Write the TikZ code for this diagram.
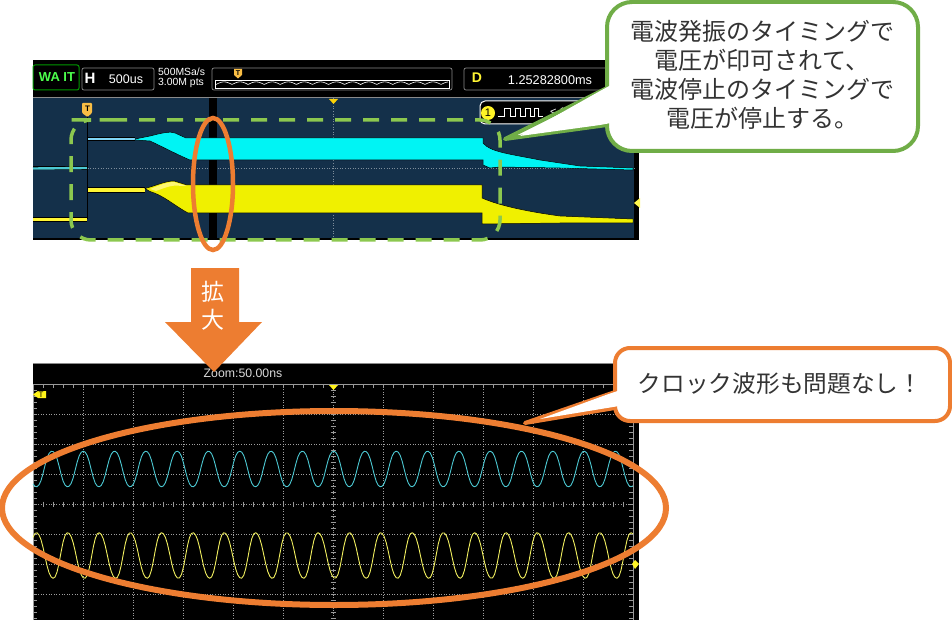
\documentclass[tikz,border=0pt]{standalone}
\usepackage{fontspec}
\setmainfont{Liberation Sans}
\newfontfamily\cjk{Noto Sans CJK JP}
\definecolor{navy}{HTML}{14304A}
\definecolor{orangeA}{HTML}{ED7D31}
\definecolor{greenA}{HTML}{70AD47}
\definecolor{greenB}{HTML}{8CC84F}
\definecolor{cyanband}{HTML}{00F4F4}
\definecolor{yellowband}{HTML}{F0F000}
\definecolor{cyanwave}{HTML}{4CC8D2}
\definecolor{yellowwave}{HTML}{F2F060}
\definecolor{panelgray}{HTML}{8A8A8A}
\definecolor{marker}{HTML}{F9BE45}
\tikzset{
  panelbox/.style={draw=panelgray,line width=0.7pt,rounded corners=2pt,fill=black},
  smalltext/.style={text=white,font=\fontsize{11}{13}\selectfont,inner sep=0pt},
  calloutgreen/.style={draw=greenA,line width=4pt,fill=white,line join=round},
  calloutorange/.style={draw=orangeA,line width=4pt,fill=white,line join=round},
  calltext/.style={font=\cjk\fontsize{23.7}{29.2}\selectfont,align=center,inner sep=0pt,text=black!80},
  gridline/.style={draw=white!62!black,line width=0.6pt,dash pattern=on 1pt off 1.6pt},
  ticks/.style={draw=white!60!black,line width=0.7pt},
  emphasis/.style={draw=orangeA,fill=none},
  bandedge/.style={draw=black,line width=0.5pt}
}
\begin{document}
\begin{tikzpicture}[x=1pt,y=-1pt]
\useasboundingbox (0,0) rectangle (952,620);
% ---------- upper scope
\fill[black] (33,60) rectangle (638.5,240);
\fill[navy] (33,98) rectangle (634,238);
\draw[panelgray,line width=0.7pt] (33,97.5) -- (638,97.5);
\draw[gridline,draw=white!45!navy] (33,168) -- (634,168);
\draw[gridline,draw=white!45!navy] (333,98) -- (333,238);
\fill[black] (209,98) rectangle (217,238);
% header
\draw[draw=green!60!black,line width=1pt,rounded corners=2pt,fill=black] (33,65) rectangle (79,90);
\node[inner sep=0pt,text=green!70!white,font=\bfseries\fontsize{13}{15}\selectfont] (waitlabel) at (57,77) {WA IT};
\draw[panelbox] (82,68) rectangle (154,90);
\node[smalltext,font=\bfseries\fontsize{15}{15}\selectfont] (hlabel) at (90,78) {H};
\node[smalltext,font=\fontsize{12.5}{13}\selectfont] (hvalue) at (126,79) {500us};
\node[smalltext,font=\fontsize{10.4}{11}\selectfont,anchor=west] (rate) at (158,72) {500MSa/s};
\node[smalltext,font=\fontsize{10.4}{11}\selectfont,anchor=west] (pts) at (158,83) {3.00M pts};
\draw[panelbox] (212,68) rectangle (452,90);
\draw[white,fill=black,line width=0.7pt] (215,80) rectangle (449,88);
\draw[white,line width=0.6pt] plot[domain=216:448,samples=240,smooth] (\x,{84.5-2.6*abs(sin((\x-216)*11.2))});
\fill[marker] (234,69) -- (242,69) -- (242,75) -- (238,78.5) -- (234,75) -- cycle;
\node[inner sep=0pt,font=\bfseries\fontsize{7}{8}\selectfont] (navT) at (238,73) {T};
\draw[panelbox] (464,68) rectangle (612,90);
\node[inner sep=0pt,text=yellow!80!white,font=\bfseries\fontsize{14}{15}\selectfont] (dlabel) at (477,78) {D};
\node[smalltext,font=\fontsize{12.7}{13}\selectfont] (dvalue) at (550,80) {1.25282800ms};
% trigger marker
\fill[marker,rounded corners=1pt] (82,103) -- (92,103) -- (92,113) -- (87.5,117) -- (82,113) -- cycle;
\node[inner sep=0pt,font=\bfseries\fontsize{8}{9}\selectfont] (trigT) at (87.5,109) {T};
\fill[yellow!70!orange] (329,99) -- (338,99) -- (333.5,104) -- cycle;
\fill[yellow!70!white] (640,198) -- (634,203) -- (640,208) -- cycle;
\draw[black,line width=0.8pt] (87.5,117) -- (87.5,219);
% cyan trace
\draw[black,line width=4pt] (33,168.5) -- (87,168.5);
\draw[cyanwave,line width=2.4pt] (33,168.5) -- (87,168) ;
\draw[black,line width=3.2pt] (88,139) -- (135,139);
\draw[cyan!50!white,line width=1.6pt] (88,139) -- (135,139);
\draw[bandedge,fill=cyanband] (135,139) -- (150,136) .. controls (162,133) and (170,131) .. (175,133)
  -- (186,138) -- (483,138) -- (483,143) .. controls (490,152) and (510,154) .. (540,160)
  -- (580,166) -- (633,168) -- (633,170) -- (560,168) -- (500,167) -- (490,168) -- (483,165)
  -- (483,160) -- (190,160) .. controls (178,155) and (165,148) .. (150,141) -- (135,140) -- cycle;
% yellow trace
\draw[black,line width=5pt] (33,219.5) -- (87,219.5);
\draw[yellow!80!white,line width=3.6pt] (33,219.5) -- (87,219.5);
\draw[black,line width=5.5pt] (88,190) -- (145,190);
\draw[yellow!80!white,line width=4pt] (88,190) -- (145,190);
\draw[bandedge,fill=yellowband] (145,188.5) .. controls (155,186) and (165,181) .. (174,181)
  -- (187,185) -- (482,185) -- (482,198) .. controls (500,206) and (530,212) .. (560,216)
  -- (633,219) -- (633,223) -- (560,223) -- (482,224) -- (482,213) -- (188,213)
  .. controls (175,206) and (163,195) .. (150,191.5) -- cycle;
\fill[yellow!55!white] (150,189) .. controls (158,186) and (166,182) .. (174,182) -- (187,186) -- (181,186) .. controls (172,184) and (162,189) .. (156,191) -- cycle;
% channel badge
\draw[white,line width=1pt,rounded corners=5pt,fill=black] (480,101) rectangle (600,124);
\fill[yellow!85!white] (488,113) circle[radius=7];
\node[inner sep=0pt,font=\fontsize{11}{13}\selectfont] (chan) at (488,113) {1};
\draw[white,line width=0.9pt] (498,116) -- (504,116) -- (504,108) -- (510,108) -- (510,116) -- (515,116) -- (515,108) -- (520,108) -- (520,116) -- (525,116) -- (525,108) -- (530,108) -- (530,116) -- (534,116) -- (534,108) -- (538,108) -- (538,116) -- (543,116);
\node[smalltext] (badgeval) at (558,112) {< 1};
% dashed green frame
\draw[greenB,line width=3.5pt,rounded corners=20pt,dash pattern=on 16pt off 12pt] (91,120) -- (500,120) -- (500,240) -- (71,240) -- (71,120) -- cycle;
% ---------- green callout
\draw[calloutgreen,rounded corners=0pt] (607,88) -- (505,139) -- (607,125);
\draw[calloutgreen,rounded corners=25pt] (607,2) rectangle (918,151);
\path[fill=white] (600,91) -- (611,85) -- (611,123) -- (600,125) -- (520,136) -- cycle;
\node[calltext,font=\cjk\fontsize{24}{29.2}\selectfont] (greentext) at (762,75) {電波発振のタイミングで\\電圧が印可されて、\\電波停止のタイミングで\\電圧が停止する。};
% upper emphasis ellipse
\draw[emphasis,line width=4.5pt] (213,184) ellipse[x radius=20pt,y radius=66pt];
% ---------- lower scope
\fill[black] (33,363) rectangle (638.5,620);
\draw[panelgray,line width=0.7pt] (33,363) -- (638,363);
\node[inner sep=0pt,text=white!85!black,font=\fontsize{12.3}{13}\selectfont] (zoomlabel) at (243,373) {Zoom:50.00ns};
% grid
\foreach \gx in {83,133,...,633} \draw[gridline] (\gx,384) -- (\gx,620);
\foreach \gy in {414,444,...,594} \draw[gridline] (33,\gy) -- (633,\gy);
\draw[ticks] (33,384) -- (633,384) (33,384) -- (33,620) (633,384) -- (633,620);
\foreach \tx in {33,43,...,633} {
  \draw[ticks] (\tx,384) -- (\tx,388);
  \draw[ticks] (\tx,501.5) -- (\tx,506.5);
}
\foreach \ty in {384,390,...,620} {
  \draw[ticks] (33,\ty) -- (37,\ty);
  \draw[ticks] (629,\ty) -- (633,\ty);
  \draw[ticks] (330.5,\ty) -- (335.5,\ty);
}
\fill[yellow!90!white] (329,385) -- (338,385) -- (333.5,390) -- cycle;
\fill[yellow!90!white] (38,391) -- (46,391) -- (46,398) -- (38,398) -- (33,394.5) -- cycle;
\node[inner sep=0pt,font=\fontsize{8}{8}\selectfont] (lowT) at (41,394.5) {T};
\fill[yellow!85!white] (635,560) -- (639,564) -- (635,569) -- (632,564) -- cycle;
% waves
\draw[cyanwave,line width=0.9pt,line join=round] plot[domain=33:633,samples=300] (\x,{469-18.5*cos((\x-333.7)*11.5)+0.7*cos((\x-333.7)*34.5)});
\draw[yellowwave,line width=0.9pt,line join=round] plot[domain=33:633,samples=300] (\x,{555.5-23.5*cos((\x-318.7)*11.5)+0.8*cos((\x-318.7)*34.5)+1*sin((\x-318.7)*23)});
% ---------- arrow
\fill[orangeA] (191,268) -- (239,268) -- (239,322) -- (262,322) -- (214,372) -- (165,322) -- (191,322) -- cycle;
\node[inner sep=0pt,text=white,font=\cjk\fontsize{23}{28}\selectfont,align=center] (arrowtext) at (213,306) {拡\\大};
% ---------- orange callout
\draw[calloutorange] (615,392) -- (525,423) -- (615,408);
\draw[calloutorange,rounded corners=15pt] (615,348) rectangle (950,421);
\path[fill=white] (610,393.5) -- (619,390.5) -- (619,406) -- (610,407.5) -- (540,419) -- cycle;
\node[calltext] (orangetext) at (780,384) {クロック波形も問題なし！};
% lower emphasis ellipse
\draw[emphasis,line width=6pt] (334,508) ellipse[x radius=332pt,y radius=97pt];
\end{tikzpicture}
\end{document}
